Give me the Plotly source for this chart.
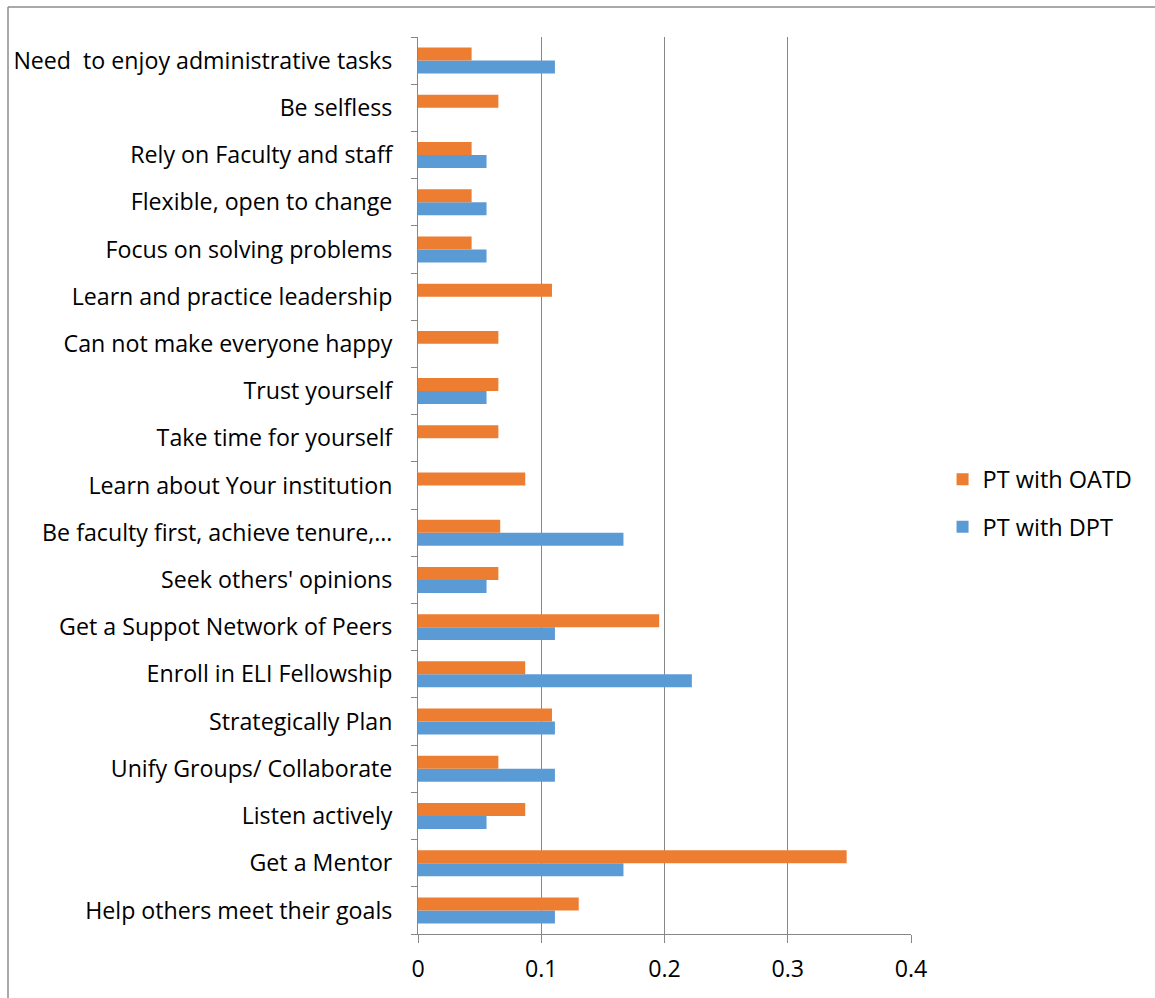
import plotly.graph_objects as go

categories = [
    "Help others meet their goals",
    "Get a Mentor",
    "Listen actively",
    "Unify Groups/ Collaborate",
    "Strategically Plan",
    "Enroll in ELI Fellowship",
    "Get a Suppot Network of Peers",
    "Seek others' opinions",
    "Be faculty first, achieve tenure,…",
    "Learn about Your institution",
    "Take time for yourself",
    "Trust yourself",
    "Can not make everyone happy",
    "Learn and practice leadership",
    "Focus on solving problems",
    "Flexible, open to change",
    "Rely on Faculty and staff",
    "Be selfless",
    "Need  to enjoy administrative tasks",
]

pt_oatd = [0.1304, 0.3478, 0.0870, 0.0652, 0.1087, 0.0870, 0.1957, 0.0652, 0.0667,
           0.0870, 0.0652, 0.0652, 0.0652, 0.1087, 0.0435, 0.0435, 0.0435, 0.0652, 0.0435]
pt_dpt = [0.1111, 0.1667, 0.0556, 0.1111, 0.1111, 0.2222, 0.1111, 0.0556, 0.1667,
          0, 0, 0.0556, 0, 0, 0.0556, 0.0556, 0.0556, 0, 0.1111]

x_ticks = [0, 0.1, 0.2, 0.3, 0.4]
x_tick_labels = ["0", "0.1", "0.2", "0.3", "0.4"]

FONT = "Open Sans"
FS = 23.2
GRID = "#878787"

fig = go.Figure()
fig.add_trace(go.Bar(y=categories, x=pt_dpt, orientation="h", name="PT with DPT",
                     marker=dict(color="#5B9BD5", line=dict(width=0)),
                     legendgroup="b", legendrank=2))
fig.add_trace(go.Bar(y=categories, x=pt_oatd, orientation="h", name="PT with OATD",
                     marker=dict(color="#ED7D31", line=dict(width=0)),
                     legendgroup="a", legendrank=1))

fig.update_layout(
    width=1155, height=998,
    margin=dict(l=418, r=244, t=37, b=64),
    paper_bgcolor="white", plot_bgcolor="white",
    barmode="group", bargap=0.45, bargroupgap=0,
    font=dict(family=FONT, size=FS, color="#000000"),
    legend=dict(x=1.064, xanchor="left", y=0.48, yanchor="middle",
                traceorder="grouped", tracegroupgap=14,
                font=dict(family=FONT, size=23.5), itemwidth=30),
    showlegend=True,
    xaxis=dict(range=[0, 0.4], tickvals=x_ticks, ticktext=x_tick_labels,
               showgrid=True, gridcolor=GRID, gridwidth=1,
               showline=True, linecolor=GRID, linewidth=1,
               ticks="outside", ticklen=8, tickcolor=GRID,
               ticklabelstandoff=6,
               zeroline=False, tickfont=dict(size=FS)),
    yaxis=dict(type="category", categoryorder="array", categoryarray=categories,
               showgrid=False, showline=True, linecolor=GRID, linewidth=1,
               ticks="outside", ticklen=6, tickcolor=GRID, tickson="boundaries",
               ticklabelstandoff=20, tickfont=dict(size=FS)),
    shapes=[
        dict(type="line", xref="paper", yref="paper",
             x0=(8 - 418) / 493, x1=(8 - 418) / 493,
             y0=(934 - 7) / 897, y1=(934 - 1000) / 897,
             line=dict(color="#8c8c8c", width=1.5)),
        dict(type="line", xref="paper", yref="paper",
             x0=(8 - 418) / 493, x1=(1160 - 418) / 493,
             y0=(934 - 7) / 897, y1=(934 - 7) / 897,
             line=dict(color="#8c8c8c", width=1.5)),
    ],
)

fig.write_html("out.html")
